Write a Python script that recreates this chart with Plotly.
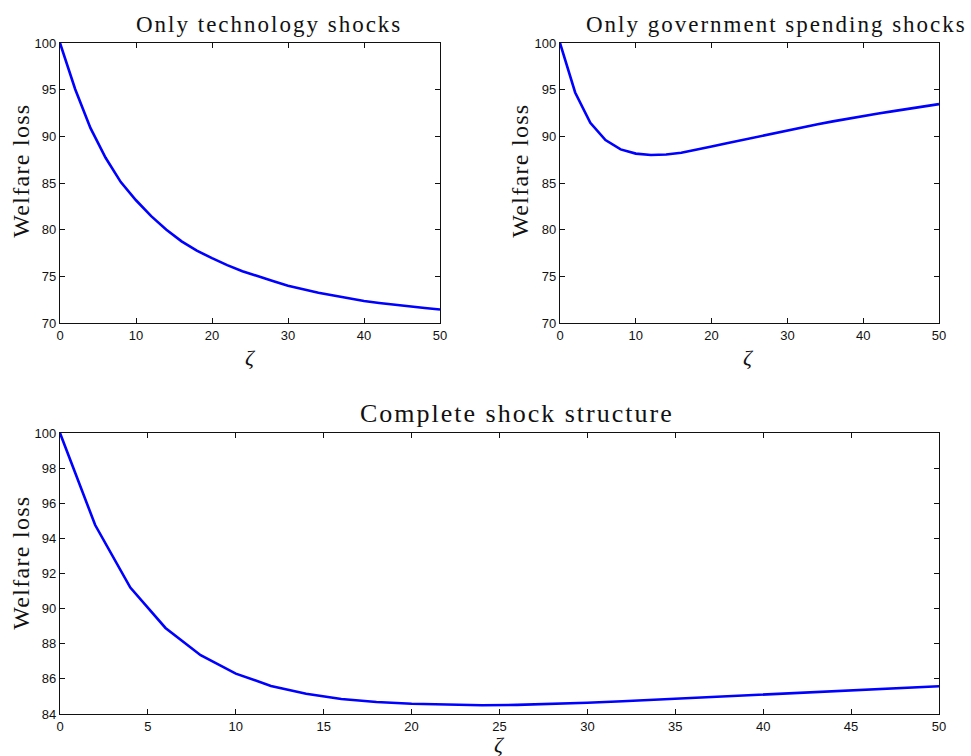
import plotly.graph_objects as go

# ---- data ----
zeta_top = list(range(0, 52, 2))
loss_tech = [100.0, 95.05, 90.9, 87.7, 85.1, 83.15, 81.45, 80.0, 78.75, 77.75,
             76.95, 76.2, 75.55, 75.0, 74.5, 74.0, 73.6, 73.25, 72.95, 72.65,
             72.35, 72.15, 71.95, 71.75, 71.6, 71.45]
loss_gov = [100.0, 94.7, 91.45, 89.6, 88.6, 88.15, 88.0, 88.05, 88.25, 88.55,
            88.9, 89.25, 89.6, 89.95, 90.3, 90.65, 91.0, 91.3, 91.6, 91.9,
            92.2, 92.45, 92.7, 92.95, 93.2, 93.45]
zeta_all = list(range(0, 52, 2))
loss_all = [100.0, 94.76, 91.2, 88.9, 87.35, 86.3, 85.6, 85.15, 84.85, 84.68,
            84.58, 84.52, 84.5, 84.52, 84.57, 84.64, 84.73, 84.82, 84.92, 85.02,
            85.12, 85.21, 85.3, 85.4, 85.49, 85.58]

titles = ["Only technology shocks", "Only government spending shocks",
          "Complete shock structure"]
ylabel = "Welfare loss"
xlabel = "ζ"

ticks_top_x = [0, 10, 20, 30, 40, 50]
ticks_top_y = [70, 75, 80, 85, 90, 95, 100]
ticks_bot_x = [0, 5, 10, 15, 20, 25, 30, 35, 40, 45, 50]
ticks_bot_y = [84, 86, 88, 90, 92, 94, 96, 98, 100]

W, H = 971, 756
BLUE = "#0000ff"
TICKFONT = dict(family="Liberation Sans, Arial, sans-serif", size=13, color="#111")
SERIF = "Liberation Serif, DejaVu Serif, serif"

fig = go.Figure()
fig.add_trace(go.Scatter(x=zeta_top, y=loss_tech, mode="lines",
                         line=dict(color=BLUE, width=2.6), xaxis="x", yaxis="y"))
fig.add_trace(go.Scatter(x=zeta_top, y=loss_gov, mode="lines",
                         line=dict(color=BLUE, width=2.6), xaxis="x2", yaxis="y2"))
fig.add_trace(go.Scatter(x=zeta_all, y=loss_all, mode="lines",
                         line=dict(color=BLUE, width=2.6), xaxis="x3", yaxis="y3"))


def px_x(p):
    return p / W


def px_y(p):
    return 1 - p / H


def axis(domain, tickvals, rng, anchor):
    return dict(domain=domain, range=rng, tickvals=tickvals, ticks="inside",
                ticklen=5, tickwidth=1, tickcolor="#111", showline=True,
                linecolor="#111", linewidth=1.4, mirror="allticks", showgrid=False,
                zeroline=False, tickfont=TICKFONT, anchor=anchor, automargin=False)


top_y_dom = [px_y(323), px_y(43)]
bot_y_dom = [px_y(714), px_y(433)]

fig.update_layout(
    width=W, height=H, margin=dict(l=0, r=0, t=0, b=0, pad=0, autoexpand=False),
    paper_bgcolor="white", plot_bgcolor="white", showlegend=False,
    xaxis=axis([px_x(60), px_x(440)], ticks_top_x, [0, 50], "y"),
    yaxis=axis(top_y_dom, ticks_top_y, [70, 100], "x"),
    xaxis2=axis([px_x(560), px_x(939)], ticks_top_x, [0, 50], "y2"),
    yaxis2=axis(top_y_dom, ticks_top_y, [70, 100], "x2"),
    xaxis3=axis([px_x(60), px_x(939)], ticks_bot_x, [0, 50], "y3"),
    yaxis3=axis(bot_y_dom, ticks_bot_y, [84, 100], "x3"),
)

ann = []
title_pos = [(269, 24, 23), (776, 24, 23), (517, 413, 26)]
for t, (x, y, fs) in zip(titles, title_pos):
    ann.append(dict(text=t, x=px_x(x), y=px_y(y), xref="paper", yref="paper",
                    showarrow=False, xanchor="center", yanchor="middle",
                    font=dict(family=SERIF, size=fs, color="#111")))
ylab_pos = [(21, 171), (520, 171), (21, 563)]
for x, y in ylab_pos:
    ann.append(dict(text=ylabel, x=px_x(x), y=px_y(y), xref="paper", yref="paper",
                    showarrow=False, xanchor="center", yanchor="middle", textangle=-90,
                    font=dict(family=SERIF, size=24, color="#111")))
xlab_pos = [(250, 357), (748, 357), (499, 744)]
for x, y in xlab_pos:
    ann.append(dict(text="<i>" + xlabel + "</i>", x=px_x(x), y=px_y(y), xref="paper",
                    yref="paper", showarrow=False, xanchor="center", yanchor="middle",
                    font=dict(family=SERIF, size=22, color="#111")))
fig.update_layout(annotations=ann)

post = """
document.body.style.margin = '0';
var gd = document.querySelector('.plotly-graph-div');
function spread(){
  gd.querySelectorAll('.annotation-text').forEach(function(el){
    var s = el.textContent;
    if (s.length > 3) { el.style.letterSpacing = (s.indexOf('Welfare')===0 ? '1.3px' : '2px'); }
  });
}
spread();
gd.on('plotly_afterplot', spread);
"""
fig.write_html("out.html", post_script=post, config={"displayModeBar": False})
